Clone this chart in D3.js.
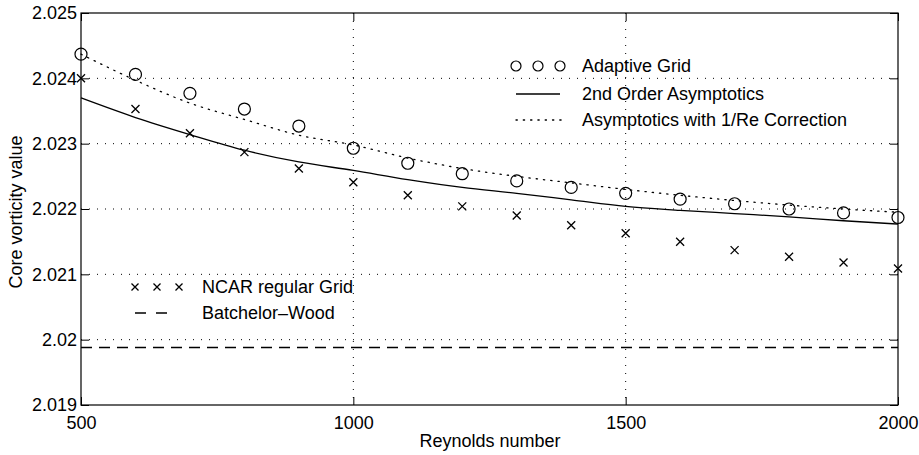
<!DOCTYPE html>
<html><head><meta charset="utf-8">
<script src="https://cdn.jsdelivr.net/npm/d3@7"></script>
<style>
html,body{margin:0;padding:0;background:#fff;}
text{font-family:"Liberation Sans",Arial,Helvetica,sans-serif;fill:#000;}
</style></head>
<body>
<svg id="chart" width="919" height="455"></svg>
<script>
const reynolds = [500,600,700,800,900,1000,1100,1200,1300,1400,1500,1600,1700,1800,1900,2000];
const adaptiveGrid = [2.02437,2.02406,2.02377,2.02353,2.02327,2.02293,2.02270,2.02254,2.02243,2.02233,2.02224,2.02215,2.02208,2.02200,2.02194,2.02187];
const ncarGrid = [2.02400,2.02353,2.02316,2.02287,2.02262,2.02241,2.02221,2.02204,2.02190,2.02175,2.02163,2.02150,2.02137,2.02127,2.02118,2.02109];
const secondOrder = [2.02370,2.02340,2.02314,2.02290,2.02272,2.02259,2.02245,2.02233,2.02224,2.02214,2.02204,2.02198,2.02193,2.02188,2.02182,2.02177];
const withCorrection = [2.02437,2.02397,2.02362,2.02337,2.02313,2.02298,2.02278,2.02262,2.02250,2.02240,2.02230,2.02221,2.02213,2.02206,2.02200,2.02195];
const batchelorWood = 2.01988;
const xTicks = [500,1000,1500,2000];
const yTicks = [2.019,2.020,2.021,2.022,2.023,2.024,2.025];
const yTickLabels = ["2.019","2.02","2.021","2.022","2.023","2.024","2.025"];
const xLabel = "Reynolds number";
const yLabel = "Core vorticity value";

const FS = 18;
const L = 81, R = 898, T = 13, B = 405;
const svg = d3.select("#chart");
const x = d3.scaleLinear().domain([500,2000]).range([L,R]);
const y = d3.scaleLinear().domain([2.019,2.025]).range([B,T]);

// grid
const g = svg.append("g");
g.selectAll(".gx").data(xTicks.slice(1,-1)).enter().append("line")
  .attr("x1",d=>x(d)).attr("x2",d=>x(d)).attr("y1",T).attr("y2",B)
  .attr("stroke","#000").attr("stroke-width",1).attr("stroke-dasharray","1,7");
g.selectAll(".gy").data(yTicks.slice(1,-1)).enter().append("line")
  .attr("y1",d=>y(d)).attr("y2",d=>y(d)).attr("x1",L).attr("x2",R)
  .attr("stroke","#000").attr("stroke-width",1).attr("stroke-dasharray","1,7");

// axes (ticks inside)
const axB = d3.axisBottom(x).tickValues(xTicks).tickSize(-8).tickPadding(11).tickFormat(d3.format("d"));
const axT = d3.axisTop(x).tickValues(xTicks).tickSize(-8).tickFormat("");
const axL = d3.axisLeft(y).tickValues(yTicks).tickSize(-8).tickPadding(4).tickFormat((d,i)=>yTickLabels[i]);
const axR = d3.axisRight(y).tickValues(yTicks).tickSize(-8).tickFormat("");
function style(sel){ sel.select(".domain").remove(); sel.selectAll("line").attr("stroke","#000");
  sel.selectAll("text").attr("font-size",FS).attr("fill","#000").style("font-family","'Liberation Sans',Arial,sans-serif"); }
svg.append("g").attr("transform",`translate(0,${B})`).call(axB).call(style);
svg.append("g").attr("transform",`translate(0,${T})`).call(axT).call(style);
svg.append("g").attr("transform",`translate(${L},0)`).call(axL).call(style);
svg.append("g").attr("transform",`translate(${R},0)`).call(axR).call(style);
svg.append("rect").attr("x",L).attr("y",T).attr("width",R-L).attr("height",B-T)
  .attr("fill","none").attr("stroke","#000").attr("stroke-width",1.2);

// lines
const line = d3.line().x(d=>x(d[0])).y(d=>y(d[1])).curve(d3.curveMonotoneX);
svg.append("path").datum(reynolds.map((r,i)=>[r,secondOrder[i]])).attr("d",line)
  .attr("fill","none").attr("stroke","#000").attr("stroke-width",1.3);
svg.append("path").datum(reynolds.map((r,i)=>[r,withCorrection[i]])).attr("d",line)
  .attr("fill","none").attr("stroke","#000").attr("stroke-width",1.3).attr("stroke-dasharray","1.3,6").attr("stroke-linecap","round");
svg.append("line").attr("x1",x(500)).attr("x2",x(2000)).attr("y1",y(batchelorWood)).attr("y2",y(batchelorWood))
  .attr("stroke","#000").attr("stroke-width",1.3).attr("stroke-dasharray","11,7");

// markers
svg.selectAll(".circ").data(reynolds).enter().append("circle")
  .attr("cx",d=>x(d)).attr("cy",(d,i)=>y(adaptiveGrid[i])).attr("r",6)
  .attr("fill","none").attr("stroke","#000").attr("stroke-width",1.2);
const cross = (s)=>`M${-s},${-s}L${s},${s}M${-s},${s}L${s},${-s}`;
svg.selectAll(".cross").data(reynolds).enter().append("path")
  .attr("transform",(d,i)=>`translate(${x(d)},${y(ncarGrid[i])})`).attr("d",cross(4))
  .attr("fill","none").attr("stroke","#000").attr("stroke-width",1.3);

// legend 1
const lg1 = svg.append("g");
const rows1 = [66, 94, 120];
[516,538,560].forEach(cx=>lg1.append("circle").attr("cx",cx).attr("cy",rows1[0]).attr("r",5)
  .attr("fill","#fff").attr("stroke","#000").attr("stroke-width",1.2));
lg1.append("line").attr("x1",516).attr("x2",560).attr("y1",rows1[1]).attr("y2",rows1[1]).attr("stroke","#000").attr("stroke-width",1.3);
lg1.append("line").attr("x1",516).attr("x2",562).attr("y1",rows1[2]).attr("y2",rows1[2]).attr("stroke","#000")
  .attr("stroke-width",1.3).attr("stroke-dasharray","1.3,6").attr("stroke-linecap","round");
["Adaptive Grid","2nd Order Asymptotics","Asymptotics with 1/Re Correction"].forEach((t,i)=>
  lg1.append("text").attr("x",582).attr("y",rows1[i]).attr("dy","0.35em").attr("font-size",FS).text(t));

// legend 2
const lg2 = svg.append("g");
const rows2 = [287, 313];
[135,157,179].forEach(cx=>lg2.append("path").attr("transform",`translate(${cx},${rows2[0]})`).attr("d",cross(3.5))
  .attr("fill","none").attr("stroke","#000").attr("stroke-width",1.3));
lg2.append("line").attr("x1",135).attr("x2",170).attr("y1",rows2[1]).attr("y2",rows2[1]).attr("stroke","#000")
  .attr("stroke-width",1.3).attr("stroke-dasharray","11,10");
["NCAR regular Grid","Batchelor\u2013Wood"].forEach((t,i)=>
  lg2.append("text").attr("x",202).attr("y",rows2[i]).attr("dy","0.35em").attr("font-size",FS).text(t));

// axis titles
svg.append("text").attr("x",490).attr("y",447).attr("text-anchor","middle").attr("font-size",FS).text(xLabel);
svg.append("text").attr("transform",`translate(22,212) rotate(-90)`).attr("text-anchor","middle").attr("font-size",FS).text(yLabel);
</script>
</body></html>
